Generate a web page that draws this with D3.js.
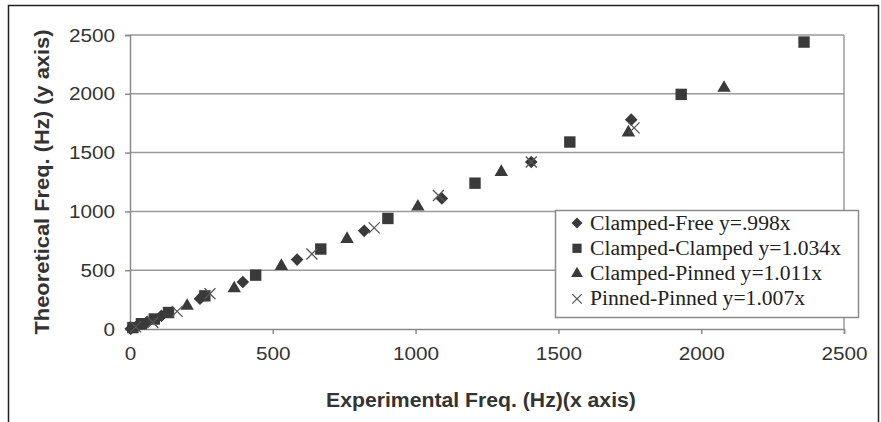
<!DOCTYPE html>
<html>
<head>
<meta charset="utf-8">
<script src="https://cdn.jsdelivr.net/npm/d3@7"></script>
<style>
  html, body { margin: 0; padding: 0; background: #fff; }
  svg { display: block; }
</style>
</head>
<body>
<svg id="chart" width="881" height="422"></svg>
<script>
// Tick values for both axes
const xTicks = [0, 500, 1000, 1500, 2000, 2500];
const yTicks = [0, 500, 1000, 1500, 2000, 2500];

// Legend labels with fitted slopes
const seriesNames = [
  "Clamped-Free y=.998x",
  "Clamped-Clamped y=1.034x",
  "Clamped-Pinned y=1.011x",
  "Pinned-Pinned y=1.007x"
];

// Experimental (x) vs theoretical (y) frequencies, Hz
const clampedFreeX = [3, 22, 60, 110, 245, 395, 585, 820, 1092, 1405, 1755];
const clampedFreeY = [3, 20, 62, 112, 258, 400, 590, 835, 1110, 1420, 1780];

const clampedClampedX = [10, 40, 85, 135, 262, 440, 668, 903, 1208, 1540, 1930, 2360];
const clampedClampedY = [12, 45, 85, 140, 282, 458, 680, 940, 1240, 1590, 1995, 2440];

const clampedPinnedX = [30, 200, 365, 530, 760, 1008, 1300, 1745, 2080];
const clampedPinnedY = [28, 196, 345, 535, 765, 1040, 1335, 1670, 2050];

const pinnedPinnedX = [20, 80, 165, 280, 637, 855, 1080, 1405, 1765];
const pinnedPinnedY = [18, 55, 150, 300, 638, 860, 1135, 1420, 1710];

const svg = d3.select("#chart");

const plot = { left: 130, right: 844, top: 35, bottom: 329 };
const x = d3.scaleLinear().domain([0, 2500]).range([plot.left, plot.right]);
const y = d3.scaleLinear().domain([0, 2500]).range([plot.bottom, plot.top]);

const ink = "#3a3a3a";
const lineGray = "#9a9a9a";

// Widen text horizontally, as the figure's lettering is set wide
function widen(sel, k) {
  sel.each(function () {
    const len = this.getComputedTextLength();
    this.setAttribute("textLength", len * k);
    this.setAttribute("lengthAdjust", "spacingAndGlyphs");
  });
}

// Outer frame
svg.append("rect")
  .attr("x", 8.5).attr("y", 5.5)
  .attr("width", 870).attr("height", 430)
  .attr("fill", "none").attr("stroke", "#222").attr("stroke-width", 1.5);

// Horizontal gridlines
svg.append("g").selectAll("line").data(yTicks.filter(d => d > 0)).join("line")
  .attr("x1", plot.left).attr("x2", plot.right)
  .attr("y1", d => y(d)).attr("y2", d => y(d))
  .attr("stroke", lineGray).attr("stroke-width", 1.5);

// Right edge of plot area
svg.append("line")
  .attr("x1", plot.right).attr("x2", plot.right)
  .attr("y1", plot.top).attr("y2", plot.bottom)
  .attr("stroke", lineGray).attr("stroke-width", 1.5);

// Axes
const xAxis = d3.axisBottom(x).tickValues(xTicks).tickSize(5).tickPadding(13).tickFormat(d3.format("d"));
const yAxis = d3.axisLeft(y).tickValues(yTicks).tickSize(5).tickPadding(10).tickFormat(d3.format("d"));

const gx = svg.append("g").attr("transform", `translate(0,${plot.bottom})`).call(xAxis);
const gy = svg.append("g").attr("transform", `translate(${plot.left},0)`).call(yAxis);

[gx, gy].forEach(g => {
  g.select(".domain").attr("stroke", "#8a8a8a").attr("stroke-width", 1.5);
  g.selectAll(".tick line").attr("stroke", "#8a8a8a").attr("stroke-width", 1.5);
  g.selectAll(".tick text")
    .attr("fill", "#333")
    .style("font-family", "'Liberation Sans', Arial, sans-serif")
    .style("font-size", "19px");
});
widen(gx.selectAll(".tick text"), 1.09);
widen(gy.selectAll(".tick text"), 1.09);

// Axis titles
const xTitle = svg.append("text")
  .attr("x", (plot.left + plot.right) / 2 - 6).attr("y", 407)
  .attr("text-anchor", "middle")
  .attr("fill", "#333")
  .style("font-family", "'Liberation Sans', Arial, sans-serif")
  .style("font-weight", "bold").style("font-size", "20px")
  .text("Experimental Freq. (Hz)(x axis)");
widen(xTitle, 1.06);

svg.append("text")
  .attr("transform", `translate(49,${(plot.top + plot.bottom) / 2}) rotate(-90)`)
  .attr("text-anchor", "middle")
  .attr("fill", "#333")
  .style("font-family", "'Liberation Sans', Arial, sans-serif")
  .style("font-weight", "bold").style("font-size", "20px")
  .attr("textLength", 305).attr("lengthAdjust", "spacingAndGlyphs")
  .text("Theoretical Freq. (Hz) (y axis)");

// Marker shapes
const diamondType = {
  draw(ctx, size) {
    const r = Math.sqrt(size / 2);
    ctx.moveTo(0, -r); ctx.lineTo(r, 0); ctx.lineTo(0, r); ctx.lineTo(-r, 0); ctx.closePath();
  }
};
const crossType = {
  draw(ctx, size) {
    const r = Math.sqrt(size) / 2;
    ctx.moveTo(-r, -r); ctx.lineTo(r, r); ctx.moveTo(-r, r); ctx.lineTo(r, -r);
  }
};

const series = [
  { xs: clampedFreeX, ys: clampedFreeY, type: diamondType, size: 80, filled: true },
  { xs: clampedClampedX, ys: clampedClampedY, type: d3.symbolSquare, size: 130, filled: true },
  { xs: clampedPinnedX, ys: clampedPinnedY, type: d3.symbolTriangle, size: 78, filled: true },
  { xs: pinnedPinnedX, ys: pinnedPinnedY, type: crossType, size: 121, filled: false }
];

function styleMarker(sel, s) {
  if (s.filled) sel.attr("fill", ink).attr("stroke", "none");
  else sel.attr("fill", "none").attr("stroke", "#555").attr("stroke-width", 1.3);
}

series.forEach(s => {
  const pts = s.xs.map((v, i) => [v, s.ys[i]]);
  const g = svg.append("g");
  const m = g.selectAll("path").data(pts).join("path")
    .attr("transform", d => `translate(${x(d[0])},${y(d[1])})`)
    .attr("d", d3.symbol().type(s.type).size(s.size));
  styleMarker(m, s);
});

// Legend
const legend = svg.append("g");
legend.append("rect")
  .attr("x", 555.5).attr("y", 210.5).attr("width", 303).attr("height", 107)
  .attr("fill", "#fff").attr("stroke", "#8a8a8a").attr("stroke-width", 1.5);

const legendSizes = [60, 85, 60, 90];
seriesNames.forEach((name, i) => {
  const s = series[i];
  const cy = 223 + i * 25.3;
  const m = legend.append("path")
    .attr("transform", `translate(577,${cy})`)
    .attr("d", d3.symbol().type(s.type).size(legendSizes[i]));
  styleMarker(m, s);
  const t = legend.append("text")
    .attr("x", 590).attr("y", cy + 6.5)
    .attr("fill", "#222")
    .style("font-family", "'Liberation Serif', 'Times New Roman', serif")
    .style("font-size", "20px")
    .text(name);
  widen(t, 1.08);
});
</script>
</body>
</html>
